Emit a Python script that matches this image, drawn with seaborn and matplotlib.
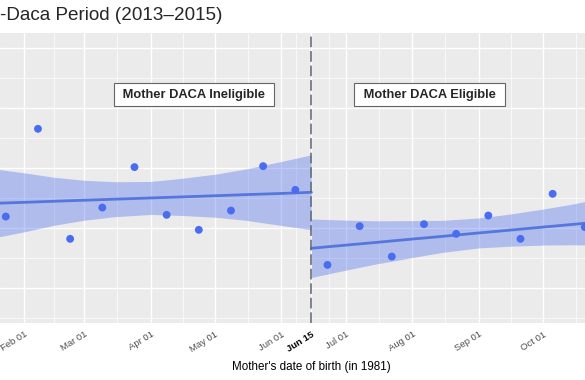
import numpy as np
import pandas as pd
import matplotlib
matplotlib.use('Agg')
import matplotlib.pyplot as plt
import matplotlib.dates as mdates
import seaborn as sns

# binned means (15-day bins on each side of the Jun 15 cutoff)
left_dates = ['1981-01-23 12:00', '1981-02-07 12:00', '1981-02-22 12:00', '1981-03-09 12:00',
              '1981-03-24 12:00', '1981-04-08 12:00', '1981-04-23 12:00', '1981-05-08 12:00',
              '1981-05-23 12:00', '1981-06-07 12:00']
left_vals = [1.193, 2.655, 0.822, 1.343, 2.017, 1.222, 0.972, 1.293, 2.033, 1.638]

right_dates = ['1981-06-22 12:00', '1981-07-07 12:00', '1981-07-22 12:00', '1981-08-06 12:00',
               '1981-08-21 12:00', '1981-09-05 12:00', '1981-09-20 12:00', '1981-10-05 12:00',
               '1981-10-20 12:00']
right_vals = [0.388, 1.033, 0.527, 1.067, 0.905, 1.210, 0.822, 1.572, 1.017]

left_fit_dates = ['1981-01-15', '1981-02-01', '1981-02-15', '1981-03-01', '1981-03-15', '1981-04-01',
                  '1981-04-15', '1981-05-01', '1981-05-15', '1981-06-01', '1981-06-15']
left_fit = [1.410, 1.430, 1.448, 1.465, 1.482, 1.503, 1.520, 1.540, 1.558, 1.578, 1.597]
left_lo = [0.818, 0.938, 1.048, 1.132, 1.190, 1.228, 1.212, 1.182, 1.133, 1.045, 0.972]
left_hi = [2.002, 1.922, 1.848, 1.798, 1.774, 1.778, 1.828, 1.898, 1.983, 2.111, 2.222]

right_fit_dates = ['1981-06-15', '1981-07-01', '1981-07-15', '1981-08-01', '1981-08-15', '1981-09-01',
                   '1981-09-15', '1981-10-01', '1981-10-15', '1981-10-25']
right_fit = [0.665, 0.717, 0.762, 0.818, 0.863, 0.920, 0.965, 1.018, 1.063, 1.097]
right_lo = [0.178, 0.300, 0.402, 0.510, 0.596, 0.670, 0.698, 0.718, 0.723, 0.719]
right_hi = [1.152, 1.134, 1.122, 1.126, 1.130, 1.170, 1.232, 1.318, 1.403, 1.475]

tick_dates = ['1981-01-01', '1981-02-01', '1981-03-01', '1981-04-01', '1981-05-01', '1981-06-01',
              '1981-06-15', '1981-07-01', '1981-08-01', '1981-09-01', '1981-10-01', '1981-11-01']
tick_labels = ['Jan 01', 'Feb 01', 'Mar 01', 'Apr 01', 'May 01', 'Jun 01',
               'Jun 15', 'Jul 01', 'Aug 01', 'Sep 01', 'Oct 01', 'Nov 01']

cutoff = '1981-06-15'

sns.set_style('darkgrid', {'axes.facecolor': '#EBEBEB', 'grid.color': 'white'})
plt.rcParams['font.family'] = ['Liberation Sans', 'DejaVu Sans']

pt_col = '#4a6cf0'
line_col = '#5577dd'

fig = plt.figure(figsize=(5.85, 3.8), dpi=100)
ax = fig.add_axes([0, 0.15, 1, 0.763])

# bands
ax.fill_between(pd.to_datetime(left_fit_dates), left_lo, left_hi, color=pt_col, alpha=0.36, lw=0, zorder=2)
ax.fill_between(pd.to_datetime(right_fit_dates), right_lo, right_hi, color=pt_col, alpha=0.36, lw=0, zorder=2)

# fit lines
sns.lineplot(x=pd.to_datetime(left_fit_dates), y=left_fit, ax=ax, color=line_col, lw=2, zorder=3)
sns.lineplot(x=pd.to_datetime(right_fit_dates), y=right_fit, ax=ax, color=line_col, lw=2, zorder=3)

ax.axvline(pd.Timestamp(cutoff), color='#5d6470', lw=1.1, linestyle=(0, (7, 2.5)), zorder=3.5)

# points
sns.scatterplot(x=pd.to_datetime(left_dates), y=left_vals, ax=ax, color=pt_col, s=32,
                edgecolor='none', zorder=4)
sns.scatterplot(x=pd.to_datetime(right_dates), y=right_vals, ax=ax, color=pt_col, s=32,
                edgecolor='none', zorder=4)

box = dict(boxstyle='square,pad=0.42', fc='white', ec='#666666', lw=0.8)
ax.text(mdates.date2num(pd.Timestamp('1981-04-21 06:00')), 3.22, ' Mother DACA Ineligible ',
        ha='center', va='center', fontsize=9.3, fontweight='bold', bbox=box, zorder=5)
ax.text(mdates.date2num(pd.Timestamp('1981-08-09 02:00')), 3.22, ' Mother DACA Eligible ',
        ha='center', va='center', fontsize=9.3, fontweight='bold', bbox=box, zorder=5)

# axes, ticks, grid
tick_dt = pd.to_datetime(tick_dates)
minor_dt = tick_dt[:-1] + (tick_dt[1:] - tick_dt[:-1]) / 2
ax.set_xticks(tick_dt)
ax.set_xticks(minor_dt, minor=True)
ax.set_xticklabels(tick_labels, rotation=32, ha='right', va='top', rotation_mode='anchor',
                   fontsize=6.8, color='#4d4d4d')
for lbl in ax.get_xticklabels():
    if lbl.get_text() == 'Jun 15':
        lbl.set_fontweight('bold')
        lbl.set_color('black')

ax.set_yticks([0, 1, 2, 3, 4])
ax.set_yticks([-0.5, 0.5, 1.5, 2.5, 3.5], minor=True)
ax.set_xlim(pd.Timestamp('1981-01-20 19:00'), pd.Timestamp('1981-10-20 14:00'))
ax.set_ylim(-0.58, 4.25)

ax.grid(which='major', color='white', lw=1.0)
ax.grid(which='minor', color='white', lw=0.5)
ax.tick_params(axis='x', which='major', length=2.5, width=0.8, color='#333333', pad=2.5)
ax.tick_params(axis='x', which='minor', length=0)
ax.tick_params(axis='y', which='both', length=0, labelleft=False)
for s in ax.spines.values():
    s.set_visible(False)

ax.set_xlabel("Mother's date of birth (in 1981)", fontsize=8.4, color='black')
ax.xaxis.set_label_coords(0.532, -0.13)
ax.set_ylabel('')

fig.text(0.0, 1 - 20.5 / 380, '-Daca Period (2013\u20132015)', fontsize=13.6, ha='left', va='baseline')

fig.savefig('out.png', dpi=100)
